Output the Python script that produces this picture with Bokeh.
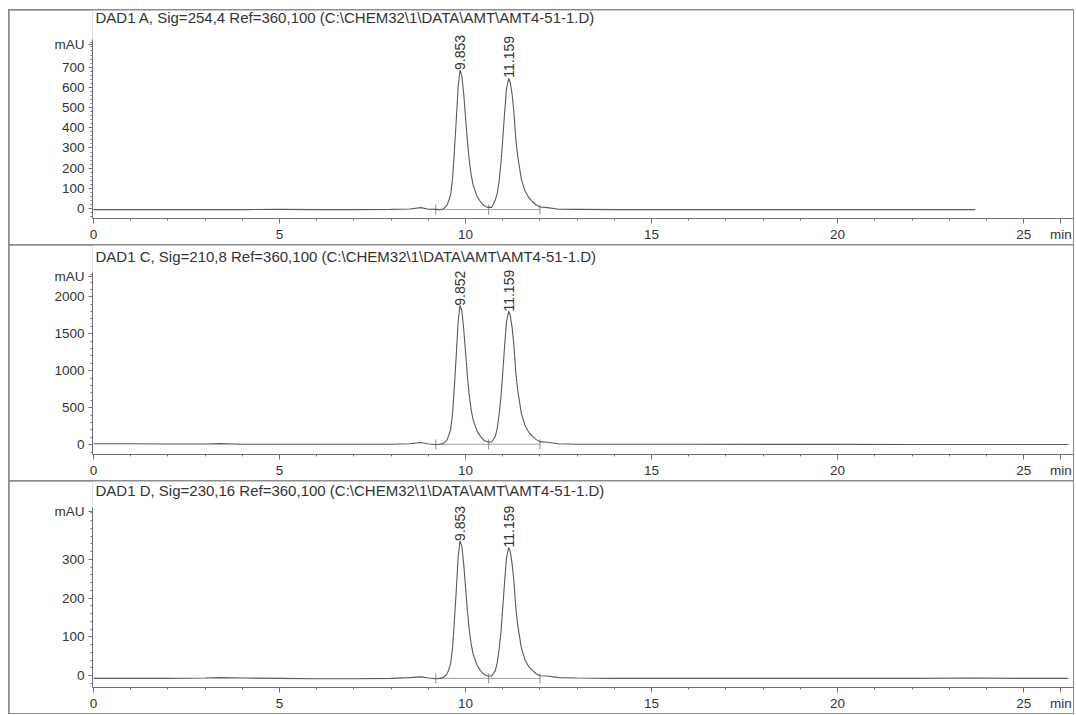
import math
from bokeh.plotting import figure
from bokeh.layouts import column
from bokeh.models import FixedTicker, Range1d, Label
from bokeh.embed import file_html
from bokeh.resources import INLINE
from bokeh.core.properties import value

nan = float("nan")

# ---------------- data ----------------
time_min = [0.0, 1.0, 2.0, 3.0, 3.4, 4.0, 5.0, 6.0, 7.0, 8.0, 8.5, 8.8, 9.0, 9.2, 9.3,
            9.4, 9.5, 9.55, 9.6, 9.65, 9.7, 9.75, 9.8, 9.85, 9.9, 9.95, 10.0, 10.05,
            10.1, 10.15, 10.2, 10.3, 10.4, 10.5, 10.6, 10.7, 10.8, 10.85, 10.9, 10.95,
            11.0, 11.05, 11.1, 11.16, 11.2, 11.25, 11.3, 11.35, 11.4, 11.5, 11.6, 11.7,
            11.8, 11.9, 12.0, 12.2, 12.5, 13.0, 14.0, 16.0, 18.0, 20.0, 22.0, 23.7,
            24.8, 26.2]

sig_A = [-5, -5, -5, -5, -5, -5, -4, -5, -5, -4, -2, 5, -3, -4, -5,
         -2, 16, 40, 71, 147, 285, 437, 602, 685, 657, 568, 450, 333,
         237, 168, 119, 64, 34, 14, 6, 6, 43, 74, 133, 223,
         346, 476, 593, 645, 626, 567, 476, 346, 262, 145, 86, 54,
         34, 18, 8, 5, -3, -4, -5, -5, -5, -5, -5, -5,
         nan, nan]

sig_C = [12, 12, 10, 8, 14, 6, 5, 5, 5, 6, 12, 30, 10, 3, 5,
         14, 61, 127, 212, 419, 795, 1208, 1659, 1885, 1810, 1565, 1246, 926,
         663, 475, 343, 193, 112, 56, 35, 36, 112, 220, 403, 635,
         977, 1337, 1661, 1805, 1751, 1589, 1337, 977, 743, 419, 257, 167,
         113, 68, 41, 33, 12, 6, 5, 5, 4, 4, 3, 3,
         3, 3]

sig_D = [-7, -7, -7, -6, -5, -6, -7, -8, -8, -7, -5, -3, -6, -8, -7,
         -5, 4, 16, 32, 71, 142, 220, 305, 348, 334, 288, 227, 167,
         117, 82, 57, 29, 13, 3, -1, -1, 13, 33, 67, 111,
         176, 243, 304, 331, 321, 290, 243, 176, 132, 71, 40, 23,
         13, 5, 0, -1, -5, -6, -7, -7, -7, -7, -7, -6,
         -7, -7]

titles = [
    "DAD1 A, Sig=254,4 Ref=360,100 (C:\\CHEM32\\1\\DATA\\AMT\\AMT4-51-1.D)",
    "DAD1 C, Sig=210,8 Ref=360,100 (C:\\CHEM32\\1\\DATA\\AMT\\AMT4-51-1.D)",
    "DAD1 D, Sig=230,16 Ref=360,100 (C:\\CHEM32\\1\\DATA\\AMT\\AMT4-51-1.D)",
]

peak_rt = [9.853, 11.159]
peak_labels_A = ["9.853", "11.159"]
peak_labels_C = ["9.852", "11.159"]
peak_labels_D = ["9.853", "11.159"]
peak_top_A = [686, 648]
peak_top_C = [1880, 1800]
peak_top_D = [348, 331]

base_level_A = -5
base_level_C = 5
base_level_D = -7
integration_events = [9.2, 10.62, 12.0]

x_major = [0, 5, 10, 15, 20, 25, 26]
x_labels = {26: "min"}
x_minor = [1, 2, 3, 4, 6, 7, 8, 9, 11, 12, 13, 14, 16, 17, 18, 19, 21, 22, 23, 24, 26]

y_major_A = [0, 100, 200, 300, 400, 500, 600, 700, 814]
y_major_C = [0, 500, 1000, 1500, 2000, 2280]
y_major_D = [0, 100, 200, 300, 425]
unit_tick_A = 814
unit_tick_C = 2280
unit_tick_D = 425

# ---------------- styling ----------------
FONT = "Liberation Sans"
TXT = "#333333"
LINE = "#707070"
W = 1064
X_START = -0.027
X_END = 26.34
BORDER_L = 83


def panel(title, sig, labels, tops, base, y0, px_per_unit, axis_top, y_major, unit_tick,
          y_minor_step, height, b_bottom, title_gap):
    frame_h = height - b_bottom
    y1 = y0 + frame_h / px_per_unit
    p = figure(width=W, height=height, output_backend="svg", toolbar_location=None,
               x_range=Range1d(X_START, X_END), y_range=Range1d(y0, y1),
               min_border_left=BORDER_L, min_border_right=0,
               min_border_top=0, min_border_bottom=b_bottom)
    p.outline_line_color = None
    p.grid.visible = False
    p.background_fill_color = "white"
    p.border_fill_color = "white"

    x_per_px = (X_END - X_START) / (W - BORDER_L)

    # axes
    xa = p.xaxis[0]
    xa.ticker = FixedTicker(ticks=x_major, minor_ticks=x_minor)
    xa.major_label_overrides = x_labels
    xa.major_tick_out = 5
    xa.major_tick_in = 0
    xa.minor_tick_out = 2
    xa.minor_tick_in = 0
    xa.major_label_standoff = 3
    ya = p.yaxis[0]
    ya.bounds = (y0, axis_top)
    minors = list(range(int(math.ceil(y0 / y_minor_step)) * y_minor_step, int(axis_top), y_minor_step))
    ya.ticker = FixedTicker(ticks=y_major, minor_ticks=minors)
    ya.major_label_overrides = {unit_tick: "mAU"}
    ya.major_tick_out = 4
    ya.major_tick_in = 0
    ya.minor_tick_out = 2
    ya.minor_tick_in = 0
    ya.major_label_standoff = 4
    for ax in (xa, ya):
        ax.axis_line_color = LINE
        ax.major_tick_line_color = LINE
        ax.minor_tick_line_color = LINE
        ax.major_label_text_font = FONT
        ax.major_label_text_font_size = "13.5px"
        ax.major_label_text_color = TXT

    # title (inside the top strip of the frame)
    p.add_layout(Label(x=X_START + 3 * x_per_px, y=axis_top + title_gap / px_per_unit,
                       text=title, text_align="left", text_baseline="middle",
                       text_font=FONT, text_font_size="15px", text_color=TXT))

    # integration baseline and event marks
    d = 5 / px_per_unit
    p.line([integration_events[0], integration_events[-1]], [base, base],
           line_color="#a0a0a0", line_width=1)
    p.segment(x0=integration_events, y0=[base - d] * 3, x1=integration_events,
              y1=[base + d] * 3, line_color="#8a8a8a", line_width=1)

    # trace
    p.line(time_min, sig, line_color="#5a5a5a", line_width=1.1)

    # peak labels
    p.text(x=peak_rt, y=tops, text=labels, angle=math.pi / 2, text_align="left",
           text_baseline="middle", text_font=value(FONT), text_font_size="14px",
           text_color=TXT)
    return p


pA = panel(titles[0], sig_A, peak_labels_A, peak_top_A, base_level_A, -49, 0.204, 835,
           y_major_A, unit_tick_A, 20, 234, 24, 23)
pC = panel(titles[1], sig_C, peak_labels_C, peak_top_C, base_level_C, -133, 0.075, 2334,
           y_major_C, unit_tick_C, 100, 235, 23, 16)
pD = panel(titles[2], sig_D, peak_labels_D, peak_top_D, base_level_D, -30.5, 0.393, 435,
           y_major_D, unit_tick_D, 20, 232, 23, 17)

layout = column(pA, pC, pD, spacing=1,
                styles={"background-color": "#8c8c8c", "padding": "1px",
                        "margin-left": "8px", "margin-top": "9px"})

open("out.html", "w").write(file_html(layout, INLINE))
